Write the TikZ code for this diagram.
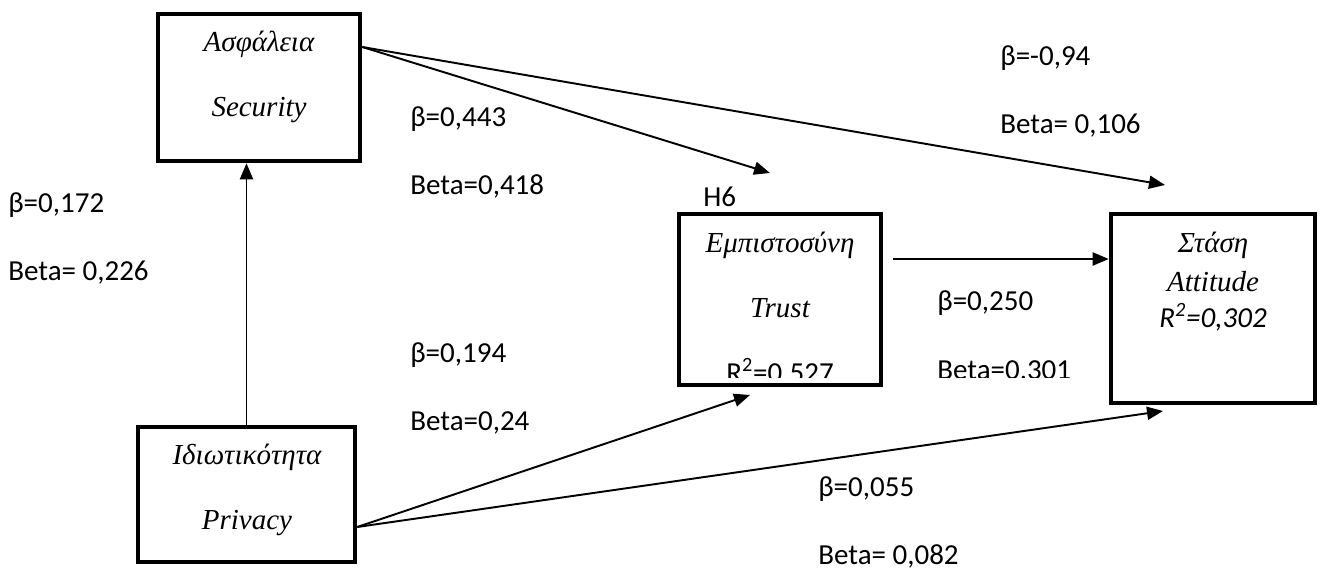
\documentclass[tikz,border=0pt]{standalone}
\usepackage{fontspec}
\setmainfont{Liberation Serif}
\newfontfamily\calibri{Carlito}
\usetikzlibrary{arrows.meta,positioning}

\begin{document}
\begin{tikzpicture}[x=0.02cm, y=-0.02cm,
	varbox/.style={draw, line width=2.6pt, inner sep=0pt},
	vartext/.style={font=\fontsize{16.5}{20}\selectfont\itshape, inner sep=0pt, anchor=base},
	coef/.style={font=\calibri\fontsize{16.5}{20}\selectfont, inner sep=0pt, anchor=base west},
	effect/.style={line width=1.1pt, -{Triangle[length=3.2mm,width=2.6mm]}}]
	\useasboundingbox (0,0) rectangle (1320,570);

	% Place boxes
	\node [varbox, minimum width=4.04cm, minimum height=2.94cm] (security) at (259,87.5) {};
	\node [varbox, minimum width=4.34cm, minimum height=2.7cm] (privacy) at (246.5,494.5) {};
	\node [varbox, minimum width=4.04cm, minimum height=3.42cm] (trust) at (780,299.5) {};
	\node [varbox, minimum width=4.08cm, minimum height=3.78cm] (attitude) at (1213,308.5) {};

	% Box texts
	\node [vartext] (securitygr) at (259,52) {Ασφάλεια};
	\node [vartext] (securityen) at (259,117) {Security};
	\node [vartext] (privacygr) at (247,465) {Ιδιωτικότητα};
	\node [vartext] (privacyen) at (247,530) {Privacy};
	\node [vartext] (trustgr) at (780,253) {Εμπιστοσύνη};
	\node [vartext] (trusten) at (780,318) {Trust};
	\node [vartext] (attitudegr) at (1213,253) {Στάση};
	\node [vartext] (attitudeen) at (1213,292) {Attitude};
	\node [vartext, font=\calibri\fontsize{16.5}{20}\selectfont\itshape] (attituder) at (1213,328) {R\textsuperscript{2}=0,302};
	\begin{scope}
		\clip (0,0) rectangle (1320,378);
		\node [vartext, font=\calibri\fontsize{16.5}{20}\selectfont] (trustr) at (780,383) {R\textsuperscript{2}=0,527};
		\node [coef] (b250b) at (937,380) {Beta=0,301};
	\end{scope}

	% Coefficients
	\node [coef] (b172a) at (8,213) {β=0,172};
	\node [coef] (b172b) at (8,281) {Beta= 0,226};
	\node [coef] (b443a) at (410,127) {β=0,443};
	\node [coef] (b443b) at (410,195) {Beta=0,418};
	\node [coef] (h6) at (703,207) {H6};
	\node [coef] (b094a) at (1000,66) {β=-0,94};
	\node [coef] (b094b) at (1000,134) {Beta= 0,106};
	\node [coef] (b194a) at (410,363) {β=0,194};
	\node [coef] (b194b) at (410,431) {Beta=0,24};
	\node [coef] (b250a) at (937,311) {β=0,250};
	\node [coef] (b055a) at (818,497) {β=0,055};
	\node [coef] (b055b) at (818,565) {Beta= 0,082};

	% Arrow ends
	\coordinate (secout) at (security.east |- 0,47);
	\coordinate (privout) at (privacy.east |- 0,527);
	\coordinate (trustout) at (893,259);
	\coordinate (trusttip) at (770,173);
	\coordinate (trustlow) at (750,395);
	\coordinate (attitudetip) at (1165,185);
	\coordinate (attitudelow) at (1163,411);

	% Draw edges
	\draw [effect] (privacy.north) -- (privacy.north |- security.south);
	\draw [effect] (secout) -- (trusttip);
	\draw [effect] (secout) -- (attitudetip);
	\draw [effect] (privout) -- (trustlow);
	\draw [effect] (privout) -- (attitudelow);
	\draw [effect] (trustout) -- (attitude.west |- trustout);
\end{tikzpicture}
\end{document}
